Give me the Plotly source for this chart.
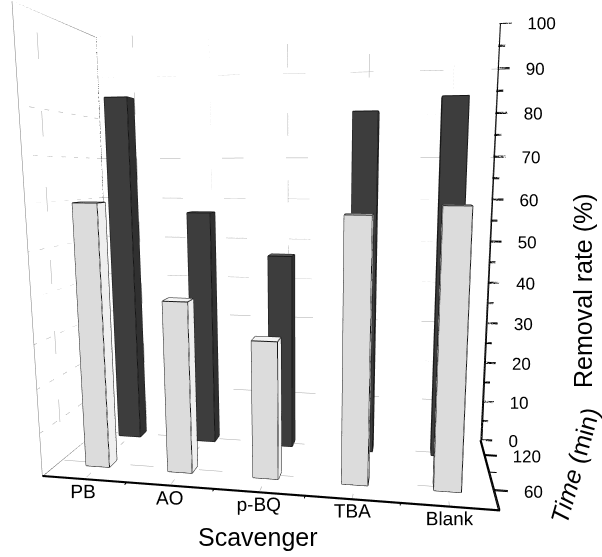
import math
import plotly.graph_objects as go

categories = ["PB", "AO", "p-BQ", "TBA", "Blank"]
times = [60, 120]
rate_60 = [60, 39, 31, 58, 60]
rate_120 = [84, 57, 47, 80, 83]
z_ticks = [0, 10, 20, 30, 40, 50, 60, 70, 80, 90, 100]
z_minor = [5, 15, 25, 35, 45, 55, 65, 75, 85, 95]
t_minor = [90]
x_bounds = [0.5, 1.5, 2.5, 3.5]

# frame of the 3D box (data units)
X0, X1 = -0.5, 4.5
Y0, Y1 = 31, 151
Z0, Z1 = 0, 100
# scene ranges (a bit larger: room for ticks / labels)
XR = [-0.5, 4.72]
YR = [28, 151]
ZR = [0, 100]

BAR_W = 0.29
BAR_D = 13

FONT = "Liberation Sans, Arial, sans-serif"
light = dict(front="#dcdcdc", side="#efefef", top="#f5f5f5")
dark = dict(front="#3d3d3d", side="#303030", top="#5c5c5c")

# ---- camera / box geometry ----
PSI, PHI = math.radians(9), math.radians(9)
D_FL = 1.41                # depth of the front-left edge from the eye
ANCHOR = (28, 252)          # screen position of the front-left edge midpoint
W, H = 0.98, 1.0
RATIO = 1.25                # front/back apparent size ratio
WIN_W, WIN_H = 602, 557
FOC = (WIN_H / 2) / math.tan(math.pi / 8)

v = (-math.sin(PSI) * math.cos(PHI), math.cos(PSI) * math.cos(PHI), -math.sin(PHI))
r = (math.cos(PSI), math.sin(PSI), 0.0)
u = (-math.sin(PSI) * math.sin(PHI), math.cos(PSI) * math.sin(PHI), math.cos(PHI))
D = (RATIO - 1) * D_FL / v[1]

sx, sy, sz = W / (X1 - X0), D / (Y1 - Y0), H / (Z1 - Z0)
mx, my, mz = sum(XR) / 2, sum(YR) / 2, sum(ZR) / 2


def norm(x, y, z):
    return ((x - mx) * sx, (y - my) * sy, (z - mz) * sz)


P = norm(X0, Y0, (Z0 + Z1) / 2)
lat = (ANCHOR[0] - WIN_W / 2) * D_FL / FOC
up = (WIN_H / 2 - ANCHOR[1]) * D_FL / FOC
E = tuple(P[k] - (lat * r[k] + up * u[k] + D_FL * v[k]) for k in range(3))
CEN = tuple(E[k] + v[k] for k in range(3))

fig = go.Figure()


def line3d(xs, ys, zs, color, width=1, dash="solid"):
    fig.add_trace(go.Scatter3d(x=xs, y=ys, z=zs, mode="lines",
                               line=dict(color=color, width=width, dash=dash),
                               hoverinfo="skip", showlegend=False))


def thick3d(p, q, color, offs):
    xs, ys, zs = [], [], []
    for o in offs:
        xs += [p[0] + o[0], q[0] + o[0], None]
        ys += [p[1] + o[1], q[1] + o[1], None]
        zs += [p[2] + o[2], q[2] + o[2], None]
    line3d(xs, ys, zs, color, 2)


def add_bar(xc, yc, h, col):
    x0, x1 = xc - BAR_W / 2, xc + BAR_W / 2
    y0, y1 = yc - BAR_D / 2, yc + BAR_D / 2
    z0, z1 = 0, h
    vx = [x0, x1, x1, x0, x0, x1, x1, x0]
    vy = [y0, y0, y1, y1, y0, y0, y1, y1]
    vz = [z0, z0, z0, z0, z1, z1, z1, z1]
    faces = [
        (0, 1, 5, col["front"]), (0, 5, 4, col["front"]),
        (3, 2, 6, col["front"]), (3, 6, 7, col["front"]),
        (1, 2, 6, col["side"]), (1, 6, 5, col["side"]),
        (0, 3, 7, col["side"]), (0, 7, 4, col["side"]),
        (4, 5, 6, col["top"]), (4, 6, 7, col["top"]),
        (0, 1, 2, col["front"]), (0, 2, 3, col["front"]),
    ]
    fig.add_trace(go.Mesh3d(
        x=vx, y=vy, z=vz,
        i=[f[0] for f in faces], j=[f[1] for f in faces], k=[f[2] for f in faces],
        facecolor=[f[3] for f in faces], flatshading=True,
        lighting=dict(ambient=1, diffuse=0, specular=0, roughness=1, fresnel=0),
        hoverinfo="skip", showscale=False,
    ))
    edges = [(0, 1), (1, 2), (2, 3), (3, 0), (4, 5), (5, 6), (6, 7), (7, 4),
             (0, 4), (1, 5), (2, 6), (3, 7)]
    ex, ey, ez = [], [], []
    for a, b in edges:
        ex += [vx[a], vx[b], None]
        ey += [vy[a], vy[b], None]
        ez += [vz[a], vz[b], None]
    line3d(ex, ey, ez, "#151515", 2)


# ---- dotted grid ----
GRID = "#a8a8a8"
gx, gy, gz = [], [], []
for i in range(len(categories)):            # back wall verticals
    gx += [i, i, None]; gy += [Y1, Y1, None]; gz += [Z0, Z1, None]
for zt in z_ticks[:-1]:                     # back wall horizontals
    gx += [X0, X1, None]; gy += [Y1, Y1, None]; gz += [zt, zt, None]
for zt in z_ticks[1:-1]:                    # left wall horizontals
    gx += [X0, X0, None]; gy += [Y0, Y1, None]; gz += [zt, zt, None]
for t in times:                             # left wall verticals
    gx += [X0, X0, None]; gy += [t, t, None]; gz += [Z0, Z1, None]
for i in range(len(categories)):            # floor depth lines
    gx += [i, i, None]; gy += [Y0, Y1, None]; gz += [Z0, Z0, None]
for t in times:                             # floor across lines
    gx += [X0, X1, None]; gy += [t, t, None]; gz += [Z0, Z0, None]
line3d(gx, gy, gz, GRID, 1, "dot")
line3d([X0, X1], [Y1, Y1], [Z1, Z1], "#8c8c8c", 1, "dot")   # back top edge

# ---- bars ----
for i, _ in enumerate(categories):
    add_bar(i, times[1], rate_120[i], dark)
for i, _ in enumerate(categories):
    add_bar(i, times[0], rate_60[i], light)

# ---- frame edges ----
line3d([X0, X0], [Y0, Y0], [Z0, Z1], "#7a7a7a", 1)           # front-left vertical
line3d([X0, X0], [Y0, Y1], [Z1, Z1], "#6a6a6a", 1)           # left top
line3d([X0, X0], [Y0, Y1], [Z0, Z0], "#3a3a3a", 1)           # left bottom
thick3d((X0, Y1, Z0), (X0, Y1, Z1), "#333333", [(0, 0, 0), (0.012, 0, 0)])
thick3d((X0, Y0, Z0), (X1, Y0, Z0), "black", [(0, 0, 0), (0, 0, 0.25), (0, 0.4, 0)])
thick3d((X1, Y0, Z0), (X1, Y1, Z0), "black", [(0, 0, 0), (0, 0, 0.25), (-0.012, 0, 0)])
thick3d((X1, Y1, Z0), (X1, Y1, Z1), "black", [(0, 0, 0), (0.013, 0, 0)])

# ---- ticks ----
tx, ty, tz = [], [], []
for zt in z_ticks:
    for o in (0, 0.25):
        tx += [X1, X1 + 0.14, None]; ty += [Y1, Y1, None]; tz += [zt + o, zt + o, None]
for zt in z_minor:
    for o in (0, 0.25):
        tx += [X1, X1 + 0.08, None]; ty += [Y1, Y1, None]; tz += [zt + o, zt + o, None]
for t in times:
    for o in (0, 0.25):
        tx += [X1, X1 + 0.14, None]; ty += [t, t, None]; tz += [Z0 + o, Z0 + o, None]
for t in t_minor:
    tx += [X1, X1 + 0.08, None]; ty += [t, t, None]; tz += [Z0, Z0, None]
for b in x_bounds:
    tx += [b, b, None]; ty += [Y0, Y0 - 3, None]; tz += [Z0, Z0, None]
line3d(tx, ty, tz, "black", 2)

# ---- tick labels ----
fig.add_trace(go.Scatter3d(
    x=[X1 + 0.14] * len(z_ticks), y=[Y1] * len(z_ticks), z=z_ticks,
    mode="text", text=[str(t) for t in z_ticks], textposition="middle right",
    textfont=dict(family=FONT, size=17, color="black"), hoverinfo="skip", showlegend=False))
fig.add_trace(go.Scatter3d(
    x=[X1 + 0.14] * len(times), y=times, z=[Z0] * len(times),
    mode="text", text=[str(t) for t in times], textposition="middle right",
    textfont=dict(family=FONT, size=17, color="black"), hoverinfo="skip", showlegend=False))
fig.add_trace(go.Scatter3d(
    x=list(range(len(categories))), y=[Y0] * len(categories), z=[3.2] * len(categories),
    mode="text", text=categories, textposition="bottom center",
    textfont=dict(family=FONT, size=19, color="black"), hoverinfo="skip", showlegend=False))

hidden = dict(visible=False, showbackground=False, showgrid=False, zeroline=False,
              showticklabels=False, showline=False, title=dict(text=""), showspikes=False)

fig.update_layout(
    width=WIN_W, height=WIN_H,
    margin=dict(l=0, r=0, t=0, b=0),
    paper_bgcolor="white",
    showlegend=False,
    scene=dict(
        domain=dict(x=[0, 1], y=[0, 1]),
        xaxis=dict(hidden, range=XR),
        yaxis=dict(hidden, range=YR),
        zaxis=dict(hidden, range=ZR),
        aspectmode="manual",
        aspectratio=dict(x=(XR[1] - XR[0]) * sx, y=(YR[1] - YR[0]) * sy, z=(ZR[1] - ZR[0]) * sz),
        camera=dict(eye=dict(x=E[0], y=E[1], z=E[2]),
                    center=dict(x=CEN[0], y=CEN[1], z=CEN[2]),
                    up=dict(x=0, y=0, z=1),
                    projection=dict(type="perspective")),
    ),
    annotations=[
        dict(text="Scavenger", x=0.428, y=0.036, xref="paper", yref="paper",
             xanchor="center", yanchor="middle",
             showarrow=False, font=dict(family=FONT, size=25, color="black")),
        dict(text="Removal rate (%)", x=0.968, y=0.479, xref="paper", yref="paper",
             xanchor="center", yanchor="middle",
             showarrow=False, textangle=-90, font=dict(family=FONT, size=25, color="black")),
        dict(text="<i>Time</i> (min)", x=0.955, y=0.165, xref="paper", yref="paper",
             xanchor="center", yanchor="middle",
             showarrow=False, textangle=-74, font=dict(family=FONT, size=25, color="black")),
    ],
)

fig.write_html("out.html")
